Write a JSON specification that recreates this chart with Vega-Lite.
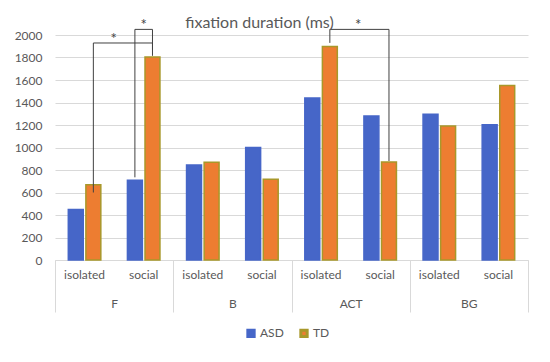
{
  "$schema": "https://vega.github.io/schema/vega-lite/v6.json",
  "autosize": {"type": "none"},
  "padding": {"left": 55, "top": 35, "right": 22, "bottom": 102},
  "width": 473,
  "height": 225,
  "background": "white",
  "config": {
    "font": "Lato",
    "view": {"stroke": null},
    "axis": {"labelColor": "#595959", "labelFontSize": 12, "titleColor": "#595959"},
    "axisY": {"labelOverlap": false, "gridColor": "#d9d9d9", "ticks": false, "domain": false, "labelPadding": 13, "format": "d"}
  },
  "title": {
    "text": "fixation duration (ms)",
    "fontSize": 16,
    "fontWeight": "normal",
    "color": "#595959",
    "anchor": "middle",
    "frame": "group",
    "dx": -32,
    "offset": -13
  },
  "datasets": {
    "bars": [
      {"key": "F|isolated", "region": "F", "group": "ASD", "value": 450},
      {"key": "F|isolated", "region": "F", "group": "TD", "value": 670},
      {"key": "F|social", "region": "F", "group": "ASD", "value": 708},
      {"key": "F|social", "region": "F", "group": "TD", "value": 1805},
      {"key": "B|isolated", "region": "B", "group": "ASD", "value": 845},
      {"key": "B|isolated", "region": "B", "group": "TD", "value": 870},
      {"key": "B|social", "region": "B", "group": "ASD", "value": 1000},
      {"key": "B|social", "region": "B", "group": "TD", "value": 718},
      {"key": "ACT|isolated", "region": "ACT", "group": "ASD", "value": 1440},
      {"key": "ACT|isolated", "region": "ACT", "group": "TD", "value": 1898},
      {"key": "ACT|social", "region": "ACT", "group": "ASD", "value": 1280},
      {"key": "ACT|social", "region": "ACT", "group": "TD", "value": 872},
      {"key": "BG|isolated", "region": "BG", "group": "ASD", "value": 1295},
      {"key": "BG|isolated", "region": "BG", "group": "TD", "value": 1192},
      {"key": "BG|social", "region": "BG", "group": "ASD", "value": 1202},
      {"key": "BG|social", "region": "BG", "group": "TD", "value": 1552}
    ],
    "brackets": [
      {"bracket": "b1", "key": "F|isolated", "group": "TD", "y": 600, "ord": 0},
      {"bracket": "b1", "key": "F|isolated", "group": "TD", "y": 1929, "ord": 1},
      {"bracket": "b1", "key": "F|social", "group": "TD", "y": 1929, "ord": 2},
      {"bracket": "b1", "key": "F|social", "group": "TD", "y": 1815, "ord": 3},
      {"bracket": "b2", "key": "F|social", "group": "ASD", "y": 735, "ord": 0},
      {"bracket": "b2", "key": "F|social", "group": "ASD", "y": 2050, "ord": 1},
      {"bracket": "b2", "key": "F|social", "group": "TD", "y": 2050, "ord": 2},
      {"bracket": "b2", "key": "F|social", "group": "TD", "y": 1870, "ord": 3},
      {"bracket": "b3", "key": "ACT|isolated", "group": "TD", "y": 1930, "ord": 0},
      {"bracket": "b3", "key": "ACT|isolated", "group": "TD", "y": 2050, "ord": 1},
      {"bracket": "b3", "key": "ACT|social", "group": "TD", "y": 2050, "ord": 2},
      {"bracket": "b3", "key": "ACT|social", "group": "TD", "y": 880, "ord": 3}
    ]
  },
  "layer": [
    {
      "layer": [
        {
          "data": {"name": "bars"},
          "mark": {"type": "bar", "strokeWidth": 1.5},
          "encoding": {
            "x": {
              "field": "key",
              "type": "nominal",
              "sort": null,
              "scale": {
                "domain": ["F|isolated", "F|social", "B|isolated", "B|social", "ACT|isolated", "ACT|social", "BG|isolated", "BG|social"],
                "paddingInner": 0.45,
                "paddingOuter": 0.225
              },
              "axis": {
                "orient": "bottom",
                "title": null,
                "labelAngle": 0,
                "labelExpr": "split(datum.label, '|')[1]",
                "ticks": false,
                "domain": true,
                "domainColor": "#d9d9d9",
                "labelPadding": 9,
                "grid": false
              }
            },
            "xOffset": {
              "field": "group",
              "type": "nominal",
              "scale": {"domain": ["ASD", "TD"], "paddingInner": 0.15, "paddingOuter": 0}
            },
            "y": {
              "field": "value",
              "type": "quantitative",
              "scale": {"domain": [0, 2000], "nice": false},
              "axis": {
                "title": null,
                "tickCount": 11,
                "values": [0, 200, 400, 600, 800, 1000, 1200, 1400, 1600, 1800, 2000]
              }
            },
            "color": {
              "field": "group",
              "type": "nominal",
              "scale": {"domain": ["ASD", "TD"], "range": ["#4666C8", "#ED7D31"]},
              "legend": {
                "title": null,
                "orient": "none",
                "legendX": 190,
                "legendY": 292,
                "direction": "horizontal",
                "symbolType": "square",
                "symbolSize": 40,
                "symbolStrokeWidth": 3,
                "labelFontSize": 12,
                "labelColor": "#595959",
                "columnPadding": 10,
                "labelOffset": 3
              }
            },
            "stroke": {
              "field": "group",
              "type": "nominal",
              "scale": {"domain": ["ASD", "TD"], "range": ["#4666C8", "#A8982A"]},
              "legend": {
                "title": null,
                "orient": "none",
                "legendX": 190,
                "legendY": 292,
                "direction": "horizontal",
                "symbolType": "square",
                "symbolSize": 40,
                "symbolStrokeWidth": 3,
                "labelFontSize": 12,
                "labelColor": "#595959",
                "columnPadding": 10,
                "labelOffset": 3
              }
            }
          }
        },
        {
          "data": {"name": "brackets"},
          "mark": {"type": "line", "color": "#404040", "strokeWidth": 1},
          "encoding": {
            "x": {"field": "key", "type": "nominal", "sort": null},
            "xOffset": {"field": "group", "type": "nominal"},
            "y": {"field": "y", "type": "quantitative", "axis": {"title": null, "tickCount": 11, "values": [0, 200, 400, 600, 800, 1000, 1200, 1400, 1600, 1800, 2000]}},
            "detail": {"field": "bracket"},
            "order": {"field": "ord", "type": "quantitative"}
          }
        },
        {
          "data": {"values": [{"key": "F|social", "y": 1929, "star": "*"}]},
          "mark": {"type": "text", "fontSize": 15, "color": "#404040", "baseline": "alphabetic", "dx": -30, "dy": 1},
          "encoding": {
            "x": {"field": "key", "type": "nominal"},
            "y": {"field": "y", "type": "quantitative", "axis": {"title": null}},
            "text": {"field": "star"}
          }
        },
        {
          "data": {"values": [{"key": "F|social", "y": 2050, "star": "*"}]},
          "mark": {"type": "text", "fontSize": 15, "color": "#404040", "baseline": "alphabetic", "dx": 0, "dy": 1},
          "encoding": {
            "x": {"field": "key", "type": "nominal"},
            "y": {"field": "y", "type": "quantitative", "axis": {"title": null}},
            "text": {"field": "star"}
          }
        },
        {
          "data": {"values": [{"key": "ACT|social", "y": 2050, "star": "*"}]},
          "mark": {"type": "text", "fontSize": 15, "color": "#404040", "baseline": "alphabetic", "dx": -22, "dy": 1},
          "encoding": {
            "x": {"field": "key", "type": "nominal"},
            "y": {"field": "y", "type": "quantitative", "axis": {"title": null}},
            "text": {"field": "star"}
          }
        }
      ]
    },
    {
      "data": {"name": "bars"},
      "mark": {"type": "bar", "opacity": 0},
      "encoding": {
        "x": {
          "field": "region",
          "type": "nominal",
          "sort": null,
          "scale": {"domain": ["F", "B", "ACT", "BG"], "paddingInner": 0, "paddingOuter": 0},
          "axis": {
            "orient": "bottom",
            "title": null,
            "labelAngle": 0,
            "tickBand": "extent",
            "ticks": true,
            "tickSize": 52,
            "tickColor": "#d9d9d9",
            "domain": false,
            "grid": false,
            "labelPadding": -14
          }
        }
      }
    }
  ],
  "resolve": {"scale": {"x": "independent"}, "axis": {"x": "independent"}}
}
